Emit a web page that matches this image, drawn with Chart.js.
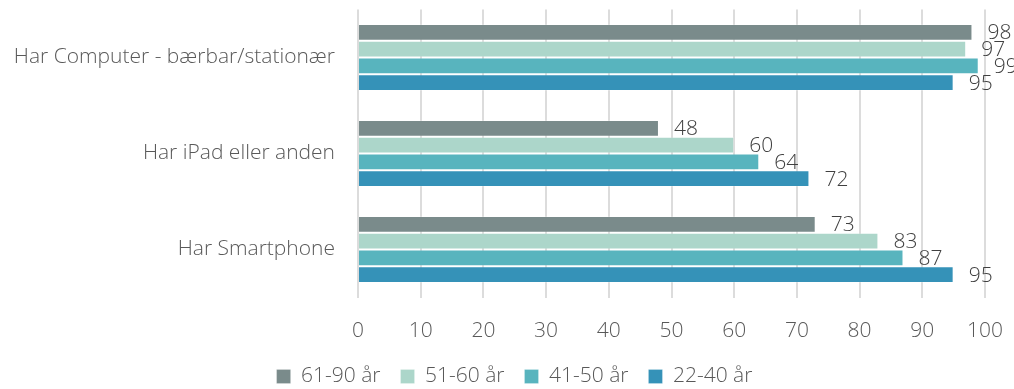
<!DOCTYPE html>
<html>
<head>
<meta charset="utf-8">
<script src="https://cdn.jsdelivr.net/npm/chart.js@4/dist/chart.umd.min.js"></script>
<style>
  html, body { margin: 0; padding: 0; background: #ffffff; }
</style>
</head>
<body>
<canvas id="chart" width="1014" height="389"></canvas>
<script>
// Categories (y axis) and age-group series, in percent
const categories = ["Har Computer - bærbar/stationær", "Har iPad eller anden", "Har Smartphone"];
const seriesNames = ["61-90 år", "51-60 år", "41-50 år", "22-40 år"];
const age61to90 = [98, 48, 73];
const age51to60 = [97, 60, 83];
const age41to50 = [99, 64, 87];
const age22to40 = [95, 72, 95];
const xTicks = [0, 10, 20, 30, 40, 50, 60, 70, 80, 90, 100];

const colors = ["#7a8b8b", "#acd6ca", "#58b4be", "#3592b8"];
const seriesValues = [age61to90, age51to60, age41to50, age22to40];

const FONT = "'Open Sans', 'DejaVu Sans', sans-serif";
const TEXT = "#595959";
const SIZE = 21;

// Writes each bar's value just past its end
const valueLabels = {
  id: "valueLabels",
  afterDatasetsDraw(chart) {
    const ctx = chart.ctx;
    ctx.save();
    ctx.font = "300 " + SIZE + "px " + FONT;
    ctx.fillStyle = "#404040";
    ctx.textAlign = "left";
    ctx.textBaseline = "middle";
    chart.data.datasets.forEach((ds, i) => {
      const meta = chart.getDatasetMeta(i);
      meta.data.forEach((bar, j) => {
        ctx.fillText(String(ds.data[j]), bar.x + 15, bar.y + 1);
      });
    });
    ctx.restore();
  }
};

// Centres the legend row under the whole canvas rather than the padded box
const legendShift = {
  id: "legendShift",
  afterLayout(chart) {
    const lg = chart.legend;
    if (!lg) return;
    lg.left += 22;
    lg.right += 22;
  }
};

new Chart(document.getElementById("chart"), {
  type: "bar",
  data: {
    labels: categories,
    datasets: seriesNames.map((name, i) => ({
      label: name,
      data: seriesValues[i],
      backgroundColor: colors[i],
      borderColor: "rgba(255,255,255,0.22)",
      borderWidth: 1,
      barPercentage: 1,
      categoryPercentage: 0.7
    }))
  },
  options: {
    indexAxis: "y",
    responsive: false,
    animation: false,
    layout: { padding: { top: 9.5, right: 29, left: 0, bottom: -8 } },
    scales: {
      x: {
        min: 0,
        max: 100,
        afterBuildTicks(scale) { scale.ticks = xTicks.map(v => ({ value: v })); },
        afterFit(scale) { scale.paddingLeft = 0; scale.paddingRight = 0; scale.height = 48.5; },
        grid: { color: "#dcdcdc", lineWidth: 2, drawTicks: false },
        border: { display: false },
        ticks: { color: TEXT, font: { family: FONT, size: SIZE, weight: 300 }, padding: 20.5, maxRotation: 0 }
      },
      y: {
        afterFit(scale) { scale.width = 358; scale.paddingTop = 0; scale.paddingBottom = 0; },
        grid: { display: false, drawTicks: false },
        border: { display: false },
        ticks: { color: TEXT, font: { family: FONT, size: SIZE, weight: 300 }, padding: 23 }
      }
    },
    plugins: {
      legend: {
        position: "bottom",
        labels: {
          color: TEXT,
          font: { family: FONT, size: SIZE, weight: 300 },
          boxWidth: 14,
          boxHeight: 14,
          padding: 20
        }
      },
      tooltip: { enabled: false }
    }
  },
  plugins: [valueLabels, legendShift]
});
</script>
</body>
</html>
